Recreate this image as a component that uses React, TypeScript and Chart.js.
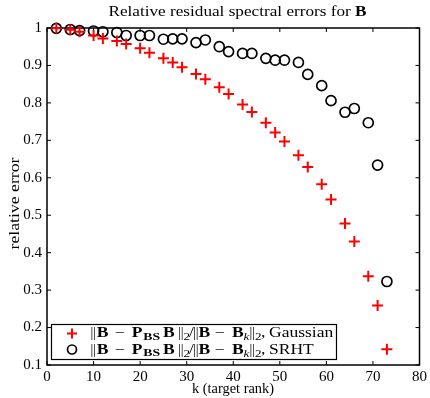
import React, { useEffect, useRef } from "react";
import { Chart, registerables } from "chart.js";

Chart.register(...registerables);

const kValues = [2, 5, 7, 10, 12, 15, 17, 20, 22, 25, 27, 29, 32, 34, 37, 39, 42, 44, 47, 49, 51, 54, 56, 59, 61, 64, 66, 69, 71, 73];
const errGaussian = [0.999, 0.995, 0.99, 0.98, 0.972, 0.965, 0.957, 0.946, 0.934, 0.919, 0.908, 0.895, 0.877, 0.863, 0.842, 0.824, 0.796, 0.776, 0.747, 0.721, 0.697, 0.66, 0.629, 0.583, 0.542, 0.478, 0.43, 0.337, 0.259, 0.142];
const errSRHT = [0.999, 0.996, 0.993, 0.992, 0.99, 0.988, 0.98, 0.98, 0.98, 0.97, 0.971, 0.971, 0.961, 0.968, 0.95, 0.937, 0.932, 0.932, 0.919, 0.914, 0.914, 0.908, 0.876, 0.846, 0.806, 0.775, 0.785, 0.747, 0.634, 0.323];

const titleText = "Relative residual spectral errors for ";
const titleBold = "B";
const xLabel = "k (target rank)";
const yLabel = "relative error";
const legendNames = ["Gaussian", "SRHT"];

const SERIF = '"Liberation Serif", "DejaVu Serif", serif';

type Seg = { t: string; b?: boolean; i?: boolean; s: number; dy?: number; x?: number; bars?: boolean };

function segFont(s: Seg) {
  return `${s.i ? "italic " : ""}${s.b ? "bold " : ""}${s.s}px ${SERIF}`;
}

function drawFitted(ctx: CanvasRenderingContext2D, segs: Seg[], cx: number, y: number, target: number) {
  let total = 0;
  const widths = segs.map((s) => {
    ctx.font = segFont(s);
    const w = ctx.measureText(s.t).width;
    total += w;
    return w;
  });
  const sx = target / total;
  ctx.save();
  ctx.translate(cx - target / 2, y);
  ctx.scale(sx, 1);
  ctx.textAlign = "left";
  ctx.textBaseline = "alphabetic";
  let x = 0;
  segs.forEach((s, idx) => {
    ctx.font = segFont(s);
    ctx.fillText(s.t, x, s.dy || 0);
    x += widths[idx];
  });
  ctx.restore();
}

function drawPlaced(ctx: CanvasRenderingContext2D, segs: Seg[], x0: number, y: number, sx: number) {
  ctx.textAlign = "left";
  ctx.textBaseline = "alphabetic";
  segs.forEach((s) => {
    const px = x0 + (s.x || 0);
    if (s.bars) {
      ctx.font = `${s.s}px ${SERIF}`;
      ctx.fillText("|", px, y);
      ctx.fillText("|", px + 2.8, y);
      return;
    }
    ctx.save();
    ctx.translate(px, y + (s.dy || 0));
    ctx.scale(sx, 1);
    ctx.font = segFont(s);
    ctx.fillText(s.t, 0, 0);
    ctx.restore();
  });
}

function legendSegs(name: string): Seg[] {
  const M = 14;
  return [
    { t: "", bars: true, s: M, x: 0 },
    { t: "B", b: true, s: M, x: 6.2 },
    { t: "\u2212", s: M, x: 24.5 },
    { t: "P", b: true, s: M, x: 41.2 },
    { t: "BS", b: true, s: 11, dy: 2.5, x: 52.8 },
    { t: "B", b: true, s: M, x: 72.5 },
    { t: "", bars: true, s: M, x: 87.5 },
    { t: "2", s: 10.5, dy: 3, x: 93 },
    { t: "/", s: M, x: 98.5 },
    { t: "", bars: true, s: M, x: 102.5 },
    { t: "B", b: true, s: M, x: 108 },
    { t: "\u2212", s: M, x: 124.5 },
    { t: "B", b: true, s: M, x: 141.5 },
    { t: "k", i: true, s: 10.5, dy: 3, x: 153 },
    { t: "", bars: true, s: M, x: 159 },
    { t: "2", s: 10.5, dy: 3, x: 164.5 },
    { t: ",", s: M, x: 170.5 },
    { t: name, s: M, x: 178.5 },
  ];
}

const framePlugin = {
  id: "frameTicks",
  beforeDatasetsDraw(chart: any) {
    const { ctx, chartArea: a, scales } = chart;
    ctx.save();
    ctx.strokeStyle = "#000";
    ctx.lineWidth = 1;
    const tl = 4;
    scales.x.ticks.forEach((t: any) => {
      const px = scales.x.getPixelForValue(t.value);
      ctx.beginPath();
      ctx.moveTo(px, a.bottom);
      ctx.lineTo(px, a.bottom - tl);
      ctx.moveTo(px, a.top);
      ctx.lineTo(px, a.top + tl);
      ctx.stroke();
    });
    scales.y.ticks.forEach((t: any) => {
      const py = scales.y.getPixelForValue(t.value);
      ctx.beginPath();
      ctx.moveTo(a.left, py);
      ctx.lineTo(a.left + tl, py);
      ctx.moveTo(a.right, py);
      ctx.lineTo(a.right - tl, py);
      ctx.stroke();
    });
    ctx.lineWidth = 1.5;
    ctx.strokeRect(a.left, a.top, a.right - a.left, a.bottom - a.top);
    ctx.restore();
  },
  afterDraw(chart: any) {
    const { ctx } = chart;
    ctx.save();
    ctx.fillStyle = "#000";
    drawFitted(ctx, [{ t: titleText, s: 14 }, { t: titleBold, b: true, s: 14 }], 237.5, 15.5, 258);
    drawFitted(ctx, [{ t: xLabel, s: 14 }], 233, 393, 82);
    ctx.save();
    ctx.translate(19, 203.5);
    ctx.rotate(-Math.PI / 2);
    drawFitted(ctx, [{ t: yLabel, s: 15 }], 0, 0, 92);
    ctx.restore();
    const lx = 51.5, ly = 324.5, lw = 285, lh = 35;
    ctx.fillStyle = "#fff";
    ctx.fillRect(lx, ly, lw, lh);
    ctx.strokeStyle = "#000";
    ctx.lineWidth = 1.2;
    ctx.strokeRect(lx, ly, lw, lh);
    const mx = 72;
    const r1 = 333.5, r2 = 349.5;
    ctx.strokeStyle = "#ff0000";
    ctx.lineWidth = 2;
    ctx.beginPath();
    ctx.moveTo(mx - 5, r1);
    ctx.lineTo(mx + 5, r1);
    ctx.moveTo(mx, r1 - 5);
    ctx.lineTo(mx, r1 + 5);
    ctx.stroke();
    ctx.strokeStyle = "#000";
    ctx.lineWidth = 1.7;
    ctx.beginPath();
    ctx.arc(mx, r2, 4.5, 0, Math.PI * 2);
    ctx.stroke();
    ctx.fillStyle = "#000";
    drawPlaced(ctx, legendSegs(legendNames[0]), 90.5, 337, 1.25);
    drawPlaced(ctx, legendSegs(legendNames[1]), 90.5, 353.5, 1.25);
    ctx.restore();
  },
};

export default function App() {
  const ref = useRef<HTMLCanvasElement | null>(null);
  useEffect(() => {
    if (!ref.current) return;
    const chart = new Chart(ref.current, {
      type: "scatter",
      data: {
        datasets: [
          {
            label: legendNames[0],
            data: kValues.map((k, i) => ({ x: k, y: errGaussian[i] })),
            pointStyle: "cross",
            pointRadius: 5.5,
            pointBorderWidth: 2,
            borderColor: "#ff0000",
            backgroundColor: "#ff0000",
            showLine: false,
            clip: false,
          },
          {
            label: legendNames[1],
            data: kValues.map((k, i) => ({ x: k, y: errSRHT[i] })),
            pointStyle: "circle",
            pointRadius: 5,
            pointBorderWidth: 1.7,
            borderColor: "#000",
            backgroundColor: "rgba(0,0,0,0)",
            showLine: false,
            clip: false,
          },
        ],
      },
      options: {
        responsive: false,
        animation: false,
        devicePixelRatio: 1,
        layout: { padding: { top: 28, right: 9, left: 0, bottom: 0 } },
        plugins: {
          legend: { display: false },
          title: { display: false },
          tooltip: { enabled: false },
        },
        scales: {
          x: {
            type: "linear",
            min: 0,
            max: 80,
            grid: { display: false, drawTicks: false },
            border: { display: false },
            ticks: { stepSize: 10, color: "#000", font: { family: SERIF, size: 15 }, padding: 3, maxRotation: 0 },
            afterFit: (s: any) => {
              s.height = 33;
            },
          },
          y: {
            type: "linear",
            min: 0.1,
            max: 1,
            grid: { display: false, drawTicks: false },
            border: { display: false },
            ticks: {
              stepSize: 0.1,
              color: "#000",
              font: { family: SERIF, size: 15 },
              padding: 5,
              callback: (v: any) => String(Math.round(Number(v) * 10) / 10),
            },
            afterFit: (s: any) => {
              s.width = 47;
            },
          },
        },
      },
      plugins: [framePlugin],
    } as any);
    return () => chart.destroy();
  }, []);
  return (
    <div style={{ position: "absolute", left: 0, top: 0, width: 430, height: 398, background: "#fff" }}>
      <canvas ref={ref} width={430} height={398} style={{ display: "block" }} />
    </div>
  );
}
